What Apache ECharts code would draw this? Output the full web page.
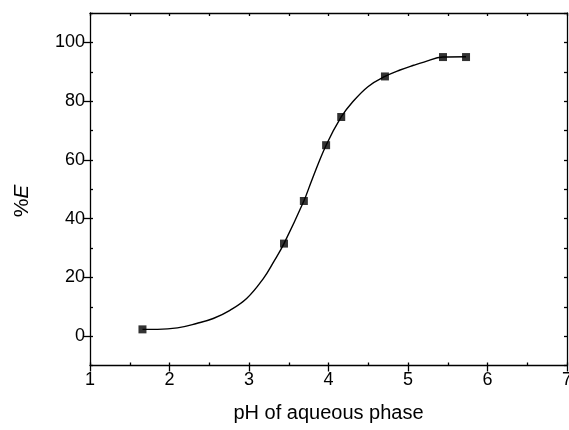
<!DOCTYPE html>
<html>
<head>
<meta charset="utf-8">
<script src="https://cdn.jsdelivr.net/npm/echarts@6/dist/echarts.min.js"></script>
<style>html,body{margin:0;padding:0;background:#fff;overflow:hidden}#c{width:569px;height:430px}</style>
</head>
<body>
<div id="c"></div>
<script>
// Measured points (pH, %E)
var pH = [1.66, 3.44, 3.69, 3.97, 4.16, 4.71, 5.44, 5.73];
var percentE = [2.3, 31.5, 46.0, 65.0, 74.6, 88.4, 95.0, 95.0];
// Fitted curve
var curvePH = [1.66, 1.85, 2.10, 2.34, 2.55, 2.76, 2.97, 3.18, 3.31, 3.44, 3.69, 3.79, 3.97, 4.16, 4.30, 4.50, 4.71, 4.90, 5.07, 5.20, 5.44, 5.73];
var curveE = [2.3, 2.3, 2.8, 4.3, 6.0, 8.8, 12.8, 19.6, 25.3, 31.5, 46.0, 53.1, 65.0, 74.6, 79.6, 85.0, 88.4, 90.6, 92.2, 93.3, 95.0, 95.1];
var xTicks = [1, 2, 3, 4, 5, 6, 7];
var yTicks = [0, 20, 40, 60, 80, 100];

var FONT = '"Liberation Sans", Arial, sans-serif';
var chart = echarts.init(document.getElementById('c'));
var lineStyle = {color: '#000', width: 1.3};
function hiddenLabel() { return {show: false}; }
chart.setOption({
  animation: false,
  backgroundColor: '#fff',
  grid: {left: 90, top: 13, right: 2, bottom: 64.5, containLabel: false, outerBoundsMode: 'none'},
  xAxis: [
    {type: 'value', position: 'bottom', min: 1, max: 7, interval: 1,
     axisLine: {show: true, onZero: false, lineStyle: lineStyle},
     axisTick: {show: true, inside: false, length: 6, lineStyle: lineStyle},
     axisLabel: {show: true, color: '#000', fontSize: 18, fontFamily: FONT, margin: 6,
       customValues: xTicks},
     splitLine: {show: false},
     name: 'pH of aqueous phase', nameLocation: 'middle', nameGap: 38,
     nameTextStyle: {color: '#000', fontSize: 20, fontFamily: FONT}},
    {type: 'value', position: 'bottom', min: 1, max: 7, interval: 0.5,
     axisLine: {show: false, onZero: false},
     axisTick: {show: true, inside: true, length: 3, lineStyle: lineStyle},
     axisLabel: hiddenLabel(), splitLine: {show: false}},
    {type: 'value', position: 'top', min: 1, max: 7, interval: 0.5,
     axisLine: {show: true, onZero: false, lineStyle: lineStyle},
     axisTick: {show: true, inside: true, length: 3, lineStyle: lineStyle},
     axisLabel: hiddenLabel(), splitLine: {show: false}}
  ],
  yAxis: [
    {type: 'value', position: 'left', min: -10, max: 110, interval: 10,
     axisLine: {show: true, onZero: false, lineStyle: lineStyle},
     axisTick: {show: true, inside: false, length: 6, lineStyle: lineStyle, customValues: yTicks},
     axisLabel: {show: true, color: '#000', fontSize: 18, fontFamily: FONT, margin: 5, customValues: yTicks},
     splitLine: {show: false}},
    {type: 'value', position: 'left', min: -10, max: 110, interval: 10,
     axisLine: {show: false, onZero: false},
     axisTick: {show: true, inside: true, length: 3, lineStyle: lineStyle},
     axisLabel: hiddenLabel(), splitLine: {show: false}},
    {type: 'value', position: 'right', min: -10, max: 110, interval: 10,
     axisLine: {show: true, onZero: false, lineStyle: lineStyle},
     axisTick: {show: true, inside: true, length: 3, lineStyle: lineStyle},
     axisLabel: hiddenLabel(), splitLine: {show: false}}
  ],
  graphic: [{
    type: 'text', x: 22, y: 201, rotation: Math.PI / 2,
    style: {
      text: '{a|%}{b|E}', align: 'center', verticalAlign: 'middle',
      rich: {
        a: {fontSize: 21, fontFamily: FONT, fill: '#000'},
        b: {fontSize: 21, fontFamily: FONT, fontStyle: 'italic', fill: '#000'}
      }
    }
  }],
  series: [
    {type: 'line', xAxisIndex: 0, yAxisIndex: 0, smooth: 0.4,
     showSymbol: false, symbol: 'none',
     lineStyle: {color: '#000', width: 1.4}, z: 2,
     data: curvePH.map(function (v, i) { return [v, curveE[i]]; })},
    {type: 'scatter', xAxisIndex: 0, yAxisIndex: 0, symbol: 'rect', symbolSize: 8,
     itemStyle: {color: '#000'}, z: 3,
     data: pH.map(function (v, i) { return [v, percentE[i]]; })}
  ]
});
</script>
</body>
</html>
